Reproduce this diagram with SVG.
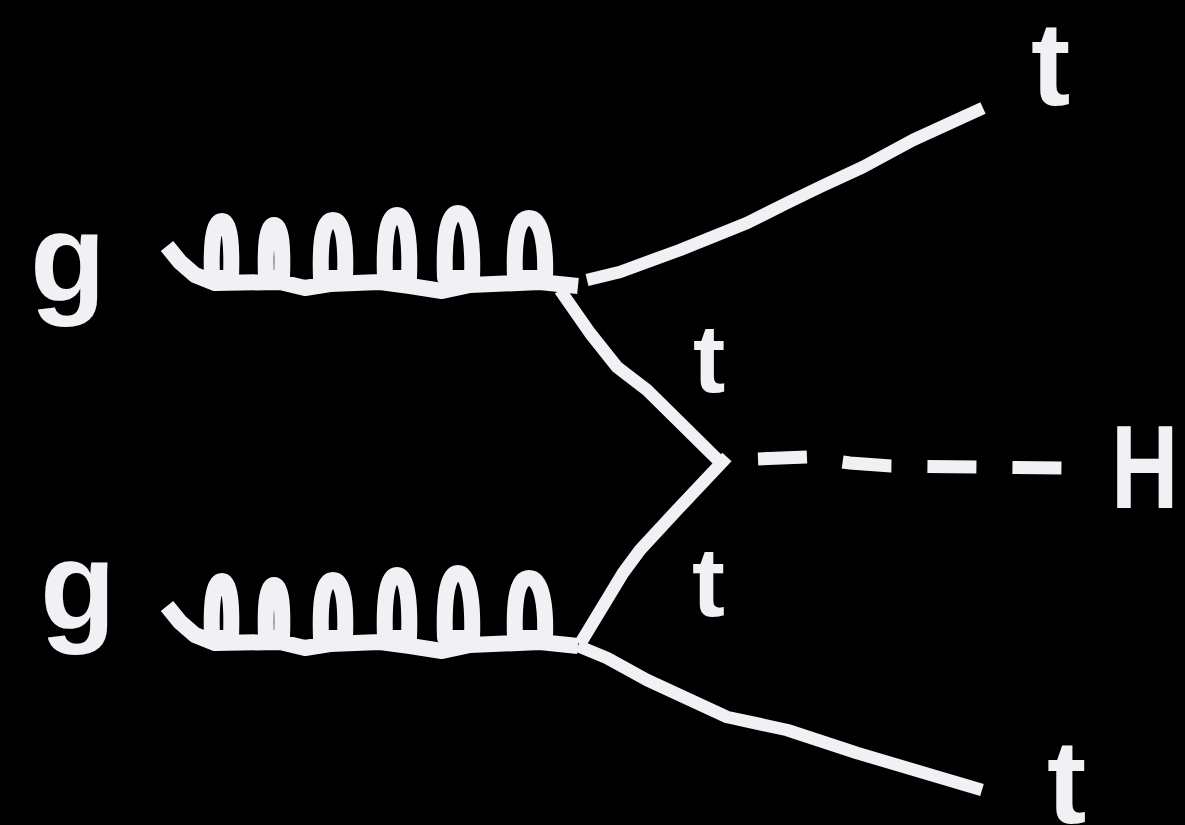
<svg xmlns="http://www.w3.org/2000/svg" width="1185" height="825" viewBox="0 0 1185 825">
  <defs>
    <style>
      .lbl { font-family: "Liberation Sans", Arial, sans-serif; font-weight: bold; fill: #F1F0F5; }
      .gluon { fill: none; stroke: #F1F0F5; stroke-width: 16; stroke-linejoin: round; stroke-linecap: butt; }
      .fermion { fill: none; stroke: #F1F0F5; stroke-width: 12.5; stroke-linejoin: round; stroke-linecap: butt; }
      .scalar { fill: none; stroke: #F1F0F5; stroke-width: 13; stroke-dasharray: 49 36; stroke-linecap: butt; }
    </style>
    <path id="gluonShape" d="M167,246 L180,262 L195,275 L215,283 L280,282 L305,288 L330,284 L380,282 L410,286 L442,291 L470,285 L540,282 L578,286
      M212,278 C211,250 212,221 222,221 C231,221 232,250 231,278 Z
      M266,278 C265,250 266,225 274,225 C282,225 283,250 282,278 Z
      M321,278 C320,250 321,220 333,220 C345,220 346,250 345,278 Z
      M385,278 C384,250 385,215 397,215 C409,215 410,250 409,278 Z
      M445,278 C444,250 445,213 458,213 C471,213 473,250 472,278 Z
      M515,278 C514,250 515,218 529,218 C543,218 546,250 545,278 Z"/>
  </defs>
  <rect x="0" y="0" width="1185" height="825" fill="#000000"/>

  <g id="connectors">
    <g id="gluon-top"><use href="#gluonShape" class="gluon"/></g>
    <g id="gluon-bottom"><use href="#gluonShape" class="gluon" transform="translate(0,360)"/></g>
    <path id="top-t-out" class="fermion" d="M587,280 L620,272 L680,250 L747,223 L787,203 L820,187 L863,167 L913,140 L983,108"/>
    <path id="t-prop-upper" class="fermion" d="M560,290 L590,333 L617,367 L647,390 L722,464"/>
    <path id="t-prop-lower" class="fermion" d="M727,457 L677,510 L640,550 L623,573 L580,644"/>
    <path id="bottom-t-out" class="fermion" d="M578,646 L607,658 L647,680 L727,717 L787,730 L857,753 L982,790"/>
    <path id="higgs" class="scalar" d="M758,459 L807,457 L850,463 L891,466 L1062,468"/>
  </g>

  <g id="label-g-top"><text class="lbl" x="30" y="301" font-size="124">g</text></g>
  <g id="label-g-bottom"><text class="lbl" x="40" y="629" font-size="124">g</text></g>
  <g id="label-t-out-top"><text class="lbl" x="1031" y="105" font-size="118">t</text></g>
  <g id="label-t-mid-upper"><text class="lbl" x="693" y="392" font-size="97">t</text></g>
  <g id="label-t-mid-lower"><text class="lbl" x="692" y="616" font-size="99">t</text></g>
  <g id="label-t-out-bottom"><text class="lbl" x="1047" y="823" font-size="118">t</text></g>
  <g id="label-H"><text class="lbl" transform="translate(1118,508) scale(0.785,1)" x="-9" y="0" font-size="119">H</text></g>
</svg>
